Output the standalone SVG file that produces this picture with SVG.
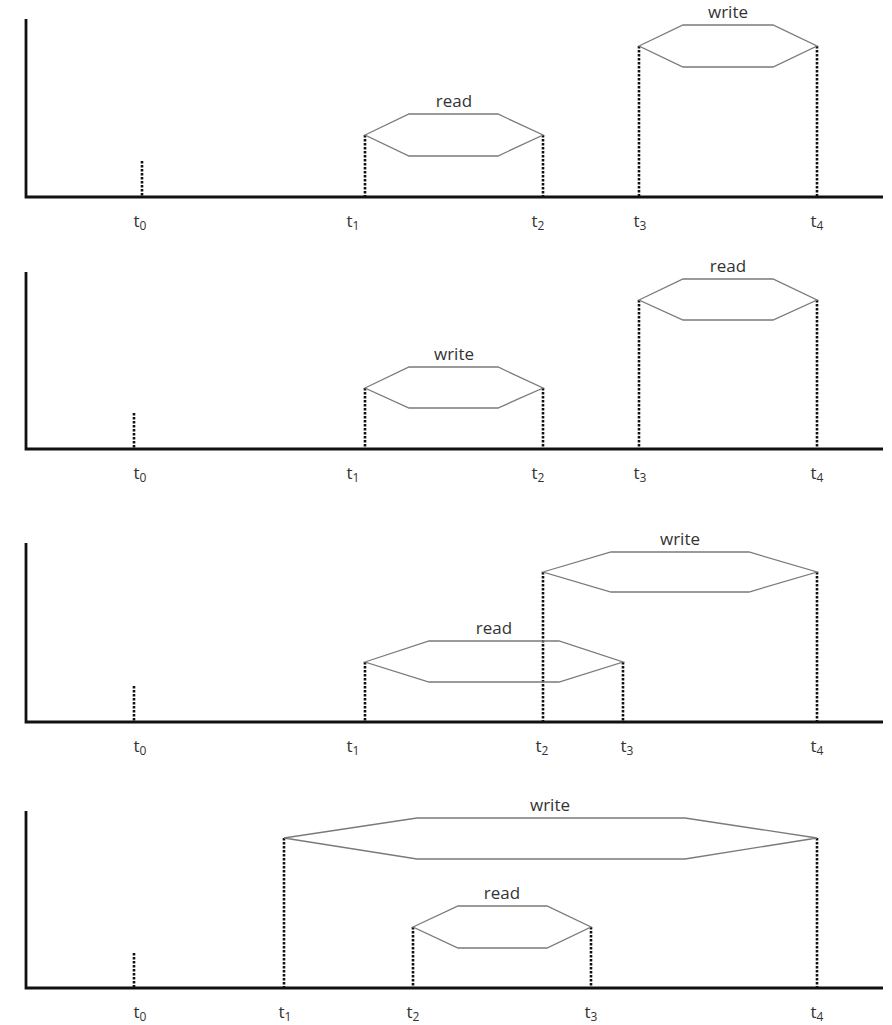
<svg xmlns="http://www.w3.org/2000/svg" width="892" height="1025" viewBox="0 0 892 1025">
<style>
.axis{stroke:#111;stroke-width:2.8;fill:none}
.guide{stroke:#111;stroke-width:2.6;stroke-dasharray:2.4 1.6;fill:none}
.hex{stroke:#7a7a7a;stroke-width:1.3;fill:none}
.lbl{font-family:"Open Sans",sans-serif;font-size:17px;fill:#333;text-anchor:middle}
.tick{font-family:"Open Sans",sans-serif;font-size:17px;fill:#333;text-anchor:middle}
.sub{font-size:12px}
</style>
<rect width="892" height="1025" fill="#fff"/>

<g id="connectors">
  <!-- panel 1 -->
  <path class="axis" d="M26 19 V197 H883"/>
  <line class="guide" x1="142" y1="161" x2="142" y2="197"/>
  <line class="guide" x1="365" y1="135" x2="365" y2="197"/>
  <line class="guide" x1="543" y1="135" x2="543" y2="197"/>
  <line class="guide" x1="639" y1="46" x2="639" y2="197"/>
  <line class="guide" x1="817" y1="46" x2="817" y2="197"/>
  <!-- panel 2 -->
  <path class="axis" d="M26 272 V449 H883"/>
  <line class="guide" x1="134" y1="413" x2="134" y2="449"/>
  <line class="guide" x1="365" y1="388" x2="365" y2="449"/>
  <line class="guide" x1="543" y1="388" x2="543" y2="449"/>
  <line class="guide" x1="639" y1="300" x2="639" y2="449"/>
  <line class="guide" x1="817" y1="300" x2="817" y2="449"/>
  <!-- panel 3 -->
  <path class="axis" d="M26 543 V722 H883"/>
  <line class="guide" x1="134" y1="686" x2="134" y2="722"/>
  <line class="guide" x1="365" y1="662" x2="365" y2="722"/>
  <line class="guide" x1="623" y1="662" x2="623" y2="722"/>
  <line class="guide" x1="543" y1="572" x2="543" y2="722"/>
  <line class="guide" x1="817" y1="572" x2="817" y2="722"/>
  <!-- panel 4 -->
  <path class="axis" d="M26 811 V988 H883"/>
  <line class="guide" x1="134" y1="953" x2="134" y2="988"/>
  <line class="guide" x1="284" y1="838" x2="284" y2="988"/>
  <line class="guide" x1="817" y1="838" x2="817" y2="988"/>
  <line class="guide" x1="413" y1="927" x2="413" y2="988"/>
  <line class="guide" x1="591" y1="927" x2="591" y2="988"/>
</g>

<!-- panel 1 nodes -->
<g id="p1-read">
  <polygon class="hex" points="365,135 409,114 498,114 543,135 498,156 409,156"/>
  <text class="lbl" x="454" y="107">read</text>
</g>
<g id="p1-write">
  <polygon class="hex" points="639,46 683,25 773,25 817,46 773,67 683,67"/>
  <text class="lbl" x="728" y="18">write</text>
</g>
<g id="p1-ticks">
  <text class="tick" x="140" y="227">t<tspan class="sub" dy="3">0</tspan></text>
  <text class="tick" x="353" y="227">t<tspan class="sub" dy="3">1</tspan></text>
  <text class="tick" x="538" y="227">t<tspan class="sub" dy="3">2</tspan></text>
  <text class="tick" x="640" y="227">t<tspan class="sub" dy="3">3</tspan></text>
  <text class="tick" x="817" y="227">t<tspan class="sub" dy="3">4</tspan></text>
</g>

<!-- panel 2 nodes -->
<g id="p2-write">
  <polygon class="hex" points="365,388 409,367 498,367 543,388 498,408 409,408"/>
  <text class="lbl" x="454" y="360">write</text>
</g>
<g id="p2-read">
  <polygon class="hex" points="639,300 683,279 773,279 817,300 773,320 683,320"/>
  <text class="lbl" x="728" y="272">read</text>
</g>
<g id="p2-ticks">
  <text class="tick" x="140" y="479">t<tspan class="sub" dy="3">0</tspan></text>
  <text class="tick" x="353" y="479">t<tspan class="sub" dy="3">1</tspan></text>
  <text class="tick" x="538" y="479">t<tspan class="sub" dy="3">2</tspan></text>
  <text class="tick" x="640" y="479">t<tspan class="sub" dy="3">3</tspan></text>
  <text class="tick" x="817" y="479">t<tspan class="sub" dy="3">4</tspan></text>
</g>

<!-- panel 3 nodes -->
<g id="p3-read">
  <polygon class="hex" points="365,662 429,641 559,641 623,662 559,682 429,682"/>
  <text class="lbl" x="494" y="634">read</text>
</g>
<g id="p3-write">
  <polygon class="hex" points="543,572 611,552 749,552 817,572 749,592 611,592"/>
  <text class="lbl" x="680" y="545">write</text>
</g>
<g id="p3-ticks">
  <text class="tick" x="140" y="752">t<tspan class="sub" dy="3">0</tspan></text>
  <text class="tick" x="353" y="752">t<tspan class="sub" dy="3">1</tspan></text>
  <text class="tick" x="542" y="752">t<tspan class="sub" dy="3">2</tspan></text>
  <text class="tick" x="627" y="752">t<tspan class="sub" dy="3">3</tspan></text>
  <text class="tick" x="817" y="752">t<tspan class="sub" dy="3">4</tspan></text>
</g>

<!-- panel 4 nodes -->
<g id="p4-write">
  <polygon class="hex" points="284,838 417,818 685,818 817,838 685,859 417,859"/>
  <text class="lbl" x="550" y="811">write</text>
</g>
<g id="p4-read">
  <polygon class="hex" points="413,927 458,906 547,906 591,927 547,948 458,948"/>
  <text class="lbl" x="502" y="899">read</text>
</g>
<g id="p4-ticks">
  <text class="tick" x="140" y="1018">t<tspan class="sub" dy="3">0</tspan></text>
  <text class="tick" x="285" y="1018">t<tspan class="sub" dy="3">1</tspan></text>
  <text class="tick" x="413" y="1018">t<tspan class="sub" dy="3">2</tspan></text>
  <text class="tick" x="591" y="1018">t<tspan class="sub" dy="3">3</tspan></text>
  <text class="tick" x="817" y="1018">t<tspan class="sub" dy="3">4</tspan></text>
</g>
</svg>
